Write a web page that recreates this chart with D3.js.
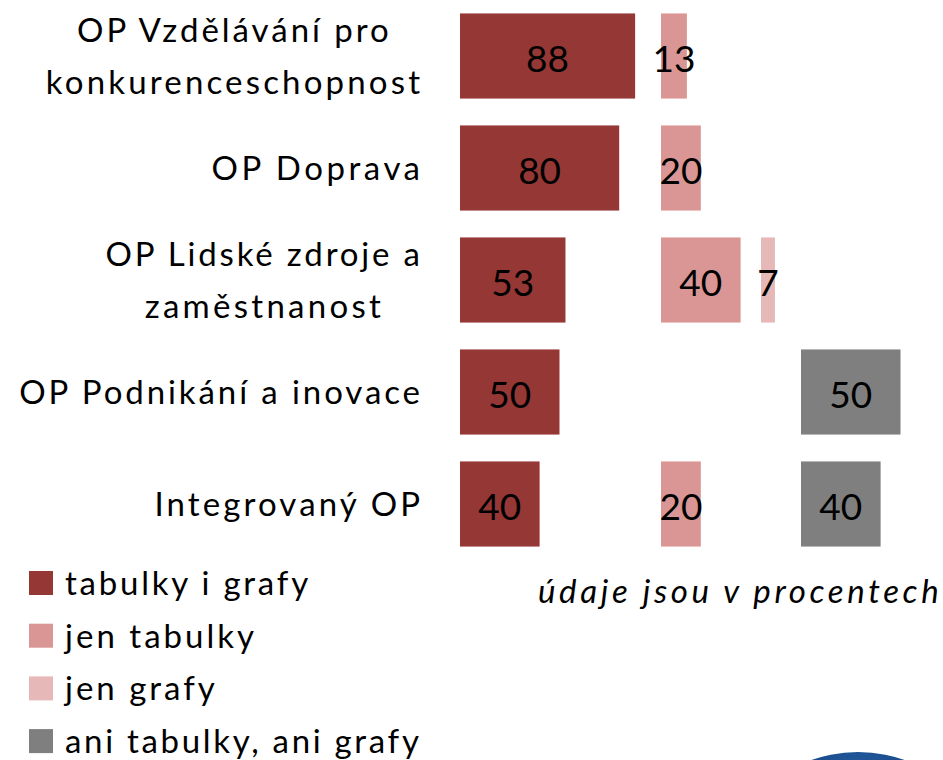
<!DOCTYPE html>
<html>
<head>
<meta charset="utf-8">
<title>Tabulky a grafy v OP</title>
<script src="https://d3js.org/d3.v7.min.js"></script>
<style>
  body { margin: 0; background: #fff; }
  svg { display: block; }
  text { font-family: Lato, "Open Sans", sans-serif; fill: #000; }
  .cat { font-size: 33px; }
  .val { font-size: 37px; }
  .leg { font-size: 33px; }
  .note { font-size: 33px; font-style: italic; }
</style>
</head>
<body>
<svg id="chart" width="943" height="760"></svg>
<script>
// data
var categoryLines = [
  ["OP Vzdělávání pro", "konkurenceschopnost"],
  ["OP Doprava"],
  ["OP Lidské zdroje a", "zaměstnanost"],
  ["OP Podnikání a inovace"],
  ["Integrovaný OP"]
];
var seriesNames = ["tabulky i grafy", "jen tabulky", "jen grafy", "ani tabulky, ani grafy"];
var tabulkyIGrafy = [88, 80, 53, 50, 40];
var jenTabulky = [13, 20, 40, 0, 20];
var jenGrafy = [0, 0, 7, 0, 0];
var aniTabulkyAniGrafy = [0, 0, 0, 50, 40];
var noteText = "údaje jsou v procentech";

var colors = ["#953735", "#D99694", "#E6B9B8", "#7F7F7F"];
var seriesValues = [tabulkyIGrafy, jenTabulky, jenGrafy, aniTabulkyAniGrafy];

var svg = d3.select("#chart");

// original font is spaced wider than Lato, so spread the letters a bit
function widen(t, k) {
  var w = t.node().getComputedTextLength();
  t.attr("textLength", w * k).attr("lengthAdjust", "spacing");
  return w * k;
}

// each series gets its own column, all on the same scale
var colX = [460, 661, 761, 801];
var x = d3.scaleLinear().domain([0, 100]).range([0, 199]);
var y = d3.scaleBand()
  .domain(d3.range(categoryLines.length))
  .range([0, 560])
  .paddingInner(0.24)
  .paddingOuter(0.12);

var labelRight = 420;

// category labels (two-line ones are centred in their block)
categoryLines.forEach(function(lines, i) {
  var cy = y(i) + y.bandwidth() / 2;
  var g = svg.append("g");
  var widths = [];
  var texts = lines.map(function(line, j) {
    var t = g.append("text")
      .attr("class", "cat")
      .attr("y", cy + 12 + (j - (lines.length - 1) / 2) * 52)
      .text(line);
    widths.push(widen(t, 1.18));
    return t;
  });
  var w = d3.max(widths);
  texts.forEach(function(t) {
    if (lines.length > 1) {
      t.attr("x", labelRight - w / 2).attr("text-anchor", "middle");
    } else {
      t.attr("x", labelRight).attr("text-anchor", "end");
    }
  });
});

// bars + value labels
seriesValues.forEach(function(vals, s) {
  var col = svg.append("g").attr("transform", "translate(" + colX[s] + ",0)");
  vals.forEach(function(v, i) {
    if (!v) return;
    col.append("rect")
      .attr("x", x(0))
      .attr("y", y(i))
      .attr("width", x(v) - x(0))
      .attr("height", y.bandwidth())
      .attr("fill", colors[s]);
    col.append("text")
      .attr("class", "val")
      .attr("x", x(v) / 2)
      .attr("y", y(i) + y.bandwidth() / 2 + 16)
      .attr("text-anchor", "middle")
      .text(v);
  });
});

// legend
var legend = svg.append("g").attr("transform", "translate(29,571)");
seriesNames.forEach(function(name, s) {
  var row = legend.append("g").attr("transform", "translate(0," + (s * 52.7) + ")");
  row.append("rect").attr("width", 24).attr("height", 24).attr("fill", colors[s]);
  var t = row.append("text").attr("class", "leg").attr("x", 36).attr("y", 24).text(name);
  widen(t, 1.19);
});

var note = svg.append("text")
  .attr("class", "note")
  .attr("x", 538)
  .attr("y", 603)
  .text(noteText);
widen(note, 1.25);

// corner of the logo peeking in at the bottom right
var grad = svg.append("defs").append("radialGradient").attr("id", "logo")
  .attr("cx", "50%").attr("cy", "10%").attr("r", "30%");
grad.append("stop").attr("offset", "0%").attr("stop-color", "#245da2");
grad.append("stop").attr("offset", "100%").attr("stop-color", "#123f7a");
svg.append("circle").attr("cx", 858).attr("cy", 892).attr("r", 140).attr("fill", "url(#logo)");
</script>
</body>
</html>
